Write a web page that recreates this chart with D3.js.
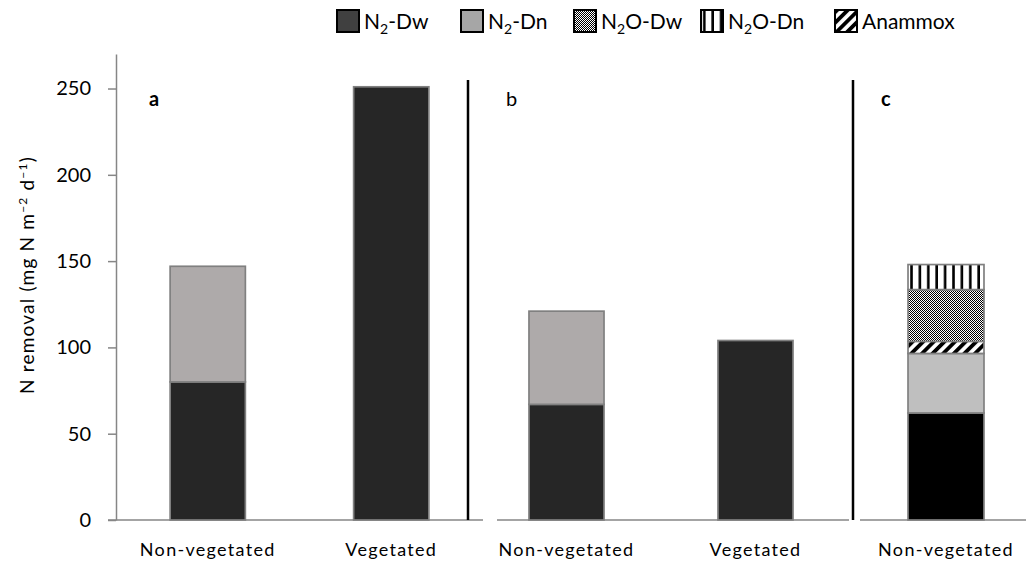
<!DOCTYPE html>
<html>
<head>
<meta charset="utf-8">
<script src="https://cdn.jsdelivr.net/npm/d3@7"></script>
<style>
  body { margin: 0; background: #fff; }
  text { font-family: Lato, "Open Sans", sans-serif; fill: #000; }
</style>
</head>
<body>
<script>
// values (mg N m-2 d-1)
var categoriesAB = ["Non-vegetated", "Vegetated"];
var categoriesC = ["Non-vegetated"];
var yTicks = [0, 50, 100, 150, 200, 250];

var panelA_N2Dw = [80, 251];
var panelA_N2Dn = [67, 0];
var panelB_N2Dw = [67, 104];
var panelB_N2Dn = [54, 0];

var panelC_N2Dw = [62];
var panelC_N2Dn = [34.5];
var panelC_Anammox = [7];
var panelC_N2ODw = [30];
var panelC_N2ODn = [14.5];

var legendItems = [
    {base: "N", sub: "2", rest: "-Dw", fill: "#404040", x: 336},
    {base: "N", sub: "2", rest: "-Dn", fill: "#a6a6a6", x: 460},
    {base: "N", sub: "2", rest: "O-Dw", fill: "url(#pCheck)", x: 573},
    {base: "N", sub: "2", rest: "O-Dn", fill: "url(#pVert)", x: 700},
    {base: "Anammox", sub: "", rest: "", fill: "url(#pDiag)", x: 834}
];

var width = 1030, height = 564;
var axisGray = "#868686";

var svg = d3.select("body").append("svg")
    .attr("width", width)
    .attr("height", height);

// patterns
var defs = svg.append("defs");
var pv = defs.append("pattern").attr("id", "pVert")
    .attr("patternUnits", "userSpaceOnUse").attr("width", 8.4).attr("height", 10);
pv.append("rect").attr("width", 8.4).attr("height", 10).attr("fill", "#fff");
pv.append("rect").attr("x", 3).attr("width", 2.6).attr("height", 10).attr("fill", "#000");

var pc = defs.append("pattern").attr("id", "pCheck")
    .attr("patternUnits", "userSpaceOnUse").attr("width", 2).attr("height", 2);
pc.append("rect").attr("width", 2).attr("height", 2).attr("fill", "#fff");
pc.append("rect").attr("width", 1).attr("height", 1).attr("fill", "#000");
pc.append("rect").attr("x", 1).attr("y", 1).attr("width", 1).attr("height", 1).attr("fill", "#000");

var pd = defs.append("pattern").attr("id", "pDiag")
    .attr("patternUnits", "userSpaceOnUse").attr("width", 7.5).attr("height", 7.5)
    .attr("patternTransform", "rotate(45)");
pd.append("rect").attr("width", 7.5).attr("height", 7.5).attr("fill", "#fff");
pd.append("rect").attr("width", 3.8).attr("height", 7.5).attr("fill", "#000");

var y = d3.scaleLinear().domain([0, 270]).range([520, 54]);

// panel x scales
var xA = d3.scaleBand().domain(categoriesAB).range([116, 483]).paddingInner(0.59).paddingOuter(0.295);
var xB = d3.scaleBand().domain(categoriesAB).range([472, 850]).paddingInner(0.603).paddingOuter(0.3015);
var xC = d3.scaleBand().domain(categoriesC).range([866, 1026]).paddingInner(0).paddingOuter(0.553);

// y axis
var yAxis = svg.append("g")
    .attr("transform", "translate(116,0)")
    .call(d3.axisLeft(y).tickValues(yTicks).tickSize(8).tickSizeOuter(0).tickPadding(17));
yAxis.select(".domain").attr("stroke", axisGray).attr("stroke-width", 1.5);
yAxis.selectAll(".tick line").attr("stroke", axisGray).attr("stroke-width", 1.5);
yAxis.selectAll(".tick text").style("font-size", "20px").attr("fill", "#000");

svg.append("text")
    .attr("transform", "translate(34,275) rotate(-90)")
    .attr("text-anchor", "middle")
    .style("font-size", "19px")
    .style("letter-spacing", "1.2px")
    .html('N removal (mg N m<tspan dy="-7" font-size="12">\u22122</tspan><tspan dy="7"> d</tspan><tspan dy="-7" font-size="12">\u22121</tspan><tspan dy="7">)</tspan>');

// baselines
var baselines = [[108, 483], [497, 849], [860, 1026]];
svg.selectAll(".base").data(baselines).enter().append("line")
    .attr("class", "base")
    .attr("x1", function(d) { return d[0]; })
    .attr("x2", function(d) { return d[1]; })
    .attr("y1", y(0)).attr("y2", y(0))
    .attr("stroke", axisGray).attr("stroke-width", 1.5);

// panel separators
svg.selectAll(".sep").data([468, 853]).enter().append("line")
    .attr("class", "sep")
    .attr("x1", function(d) { return d; }).attr("x2", function(d) { return d; })
    .attr("y1", 80).attr("y2", y(0))
    .attr("stroke", "#000").attr("stroke-width", 2.5);

function drawPanel(x, cats, series, fills) {
    var rows = cats.map(function(c, i) {
        var r = {cat: c};
        series.forEach(function(s, j) { r["s" + j] = s[i]; });
        return r;
    });
    var keys = series.map(function(s, j) { return "s" + j; });
    var stacked = d3.stack().keys(keys)(rows);
    var g = svg.append("g");
    stacked.forEach(function(layer, j) {
        g.selectAll(null).data(layer.filter(function(d) { return d[1] - d[0] > 0; }))
            .enter().append("rect")
            .attr("x", function(d) { return x(d.data.cat); })
            .attr("width", x.bandwidth())
            .attr("y", function(d) { return y(d[1]); })
            .attr("height", function(d) { return y(d[0]) - y(d[1]); })
            .attr("fill", fills[j])
            .attr("stroke", "#808080")
            .attr("stroke-width", 1.7);
    });
    // category labels
    svg.selectAll(null).data(cats).enter().append("text")
        .attr("x", function(d) { return x(d) + x.bandwidth() / 2; })
        .attr("y", 556)
        .attr("text-anchor", "middle")
        .style("font-size", "18px")
        .style("letter-spacing", "1.3px")
        .text(function(d) { return d; });
}

drawPanel(xA, categoriesAB, [panelA_N2Dw, panelA_N2Dn], ["#262626", "#aeaaaa"]);
drawPanel(xB, categoriesAB, [panelB_N2Dw, panelB_N2Dn], ["#262626", "#aeaaaa"]);
drawPanel(xC, categoriesC,
    [panelC_N2Dw, panelC_N2Dn, panelC_Anammox, panelC_N2ODw, panelC_N2ODn],
    ["#000000", "#bfbfbf", "url(#pDiag)", "url(#pCheck)", "url(#pVert)"]);

// panel letters
var letters = [{t: "a", x: 149, w: "bold"}, {t: "b", x: 506, w: "normal"}, {t: "c", x: 881, w: "bold"}];
svg.selectAll(".plab").data(letters).enter().append("text")
    .attr("class", "plab")
    .attr("x", function(d) { return d.x; })
    .attr("y", 106)
    .style("font-size", "20px")
    .style("font-weight", function(d) { return d.w; })
    .text(function(d) { return d.t; });

// legend
legendItems.forEach(function(d) {
    var g = svg.append("g").attr("transform", "translate(" + d.x + ",0)");
    g.append("rect").attr("x", 1).attr("y", 10).attr("width", 22).attr("height", 22)
        .attr("fill", d.fill).attr("stroke", "#000").attr("stroke-width", 2);
    var t = g.append("text").attr("x", 28).attr("y", 29).style("font-size", "21px");
    t.append("tspan").text(d.base);
    if (d.sub) {
        t.append("tspan").attr("dy", 5).style("font-size", "14px").text(d.sub);
        t.append("tspan").attr("dy", -5).text(d.rest);
    }
});
</script>
</body>
</html>
